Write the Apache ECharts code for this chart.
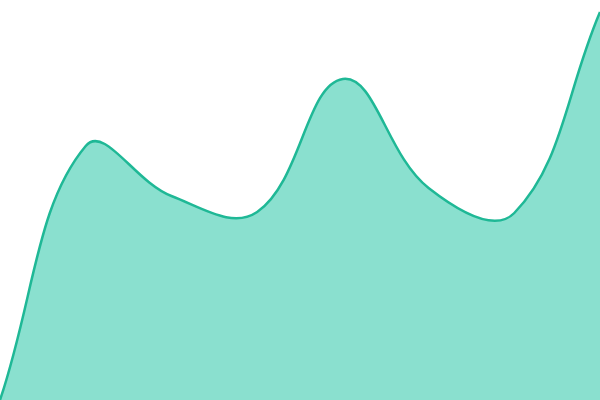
<!DOCTYPE html>
<html>
<head>
<meta charset="utf-8">
<script src="https://cdn.jsdelivr.net/npm/echarts@6/dist/echarts.min.js"></script>
<style>
  html, body { margin: 0; padding: 0; background: #fff; }
  #chart { width: 600px; height: 400px; }
</style>
</head>
<body>
<div id="chart"></div>
<script>
const categories = ['1', '2', '3', '4', '5', '6', '7', '8'];
const values = [0, 254, 204, 188, 321, 212, 187, 388];

const tension = 0.4;

// cardinal-style control points, computed from pixel positions
function splinePath(pts, closeY) {
  const cps = pts.map((p, i) => {
    const prev = pts[i - 1] || p;
    const next = pts[i + 1] || p;
    const d01 = Math.hypot(p[0] - prev[0], p[1] - prev[1]);
    const d12 = Math.hypot(next[0] - p[0], next[1] - p[1]);
    const sum = d01 + d12 || 1;
    const fa = tension * d01 / sum;
    const fb = tension * d12 / sum;
    return {
      before: [p[0] - fa * (next[0] - prev[0]), p[1] - fa * (next[1] - prev[1])],
      after: [p[0] + fb * (next[0] - prev[0]), p[1] + fb * (next[1] - prev[1])]
    };
  });
  let d = 'M' + pts[0][0] + ' ' + pts[0][1];
  for (let i = 1; i < pts.length; i++) {
    const a = cps[i - 1].after, b = cps[i].before;
    d += ' C' + a[0] + ' ' + a[1] + ' ' + b[0] + ' ' + b[1] + ' ' + pts[i][0] + ' ' + pts[i][1];
  }
  if (closeY != null) {
    d += ' L' + pts[pts.length - 1][0] + ' ' + closeY + ' L' + pts[0][0] + ' ' + closeY + ' Z';
  }
  return d;
}

const chart = echarts.init(document.getElementById('chart'));
chart.setOption({
  animation: false,
  grid: { left: 0, right: 0, top: 0, bottom: 0 },
  xAxis: { type: 'category', boundaryGap: false, data: categories, show: false },
  yAxis: { type: 'value', min: 0, max: 400, show: false },
  series: [{
    type: 'custom',
    data: values.map((v, i) => [i, v]),
    renderItem: function (params, api) {
      if (params.dataIndex !== 0) return null;
      const pts = values.map((v, i) => api.coord([i, v]));
      const base = api.coord([0, 0])[1];
      return {
        type: 'group',
        children: [
          { type: 'path', shape: { pathData: splinePath(pts, base) },
            style: { fill: '#8ae0cf', stroke: null } },
          { type: 'path', shape: { pathData: splinePath(pts) },
            style: { fill: null, stroke: '#1fb896', lineWidth: 2.5 } }
        ]
      };
    }
  }]
});
</script>
</body>
</html>
